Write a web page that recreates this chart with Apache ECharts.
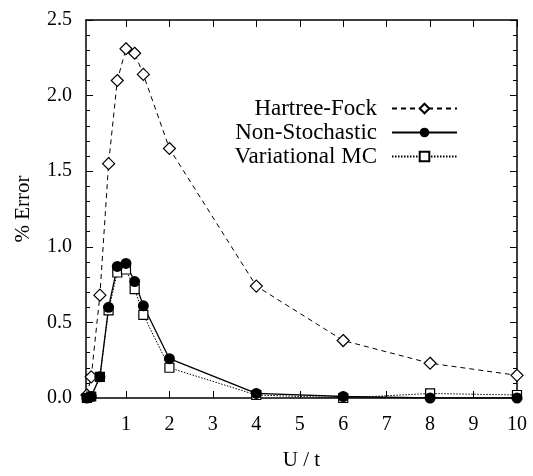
<!DOCTYPE html>
<html>
<head>
<meta charset="utf-8">
<script src="https://cdn.jsdelivr.net/npm/echarts@6/dist/echarts.min.js"></script>
<style>
  html, body { margin: 0; padding: 0; background: #fff; }
  #chart { width: 533px; height: 476px; }
</style>
</head>
<body>
<div id="chart"></div>
<script>
const U = [0.1, 0.2, 0.4, 0.6, 0.8, 1.0, 1.2, 1.4, 2, 4, 6, 8, 10];
const hartreeFock   = [0.02, 0.14, 0.68, 1.55, 2.10, 2.31, 2.28, 2.14, 1.65, 0.74, 0.38, 0.23, 0.15];
const nonStochastic = [0.00, 0.01, 0.14, 0.60, 0.87, 0.89, 0.77, 0.61, 0.26, 0.03, 0.01, 0.00, 0.00];
const variationalMC = [0.00, 0.01, 0.14, 0.58, 0.83, 0.85, 0.72, 0.55, 0.20, 0.02, 0.00, 0.03, 0.02];
const xTicks = [1, 2, 3, 4, 5, 6, 7, 8, 9, 10];
const seriesNames = ['Hartree-Fock', 'Non-Stochastic', 'Variational MC'];

const FONT = 'Liberation Serif';
const chart = echarts.init(document.getElementById('chart'), null, { renderer: 'canvas' });

function xAx(pos, labels) {
  return {
    type: 'value', min: 0.08, max: 10, position: pos,
    axisLine: { show: true, onZero: false, lineStyle: { color: '#000', width: 1.5 } },
    axisTick: { show: true, inside: true, length: 7, customValues: xTicks, lineStyle: { color: '#000', width: 1 } },
    axisLabel: { show: labels, customValues: xTicks, fontSize: 20, fontFamily: FONT, color: '#000', margin: 17 },
    splitLine: { show: false },
    name: labels ? 'U / t' : '',
    nameLocation: 'middle', nameGap: 52,
    nameTextStyle: { fontSize: 21, fontFamily: FONT, color: '#000' }
  };
}
function yAx(pos, labels) {
  return {
    type: 'value', min: 0, max: 2.5, interval: 0.5, position: pos,
    axisLine: { show: true, onZero: false, lineStyle: { color: '#000', width: 1.5 } },
    axisTick: { show: true, inside: true, length: 7, lineStyle: { color: '#000', width: 1 } },
    minorTick: { show: true, splitNumber: 5, length: 4, lineStyle: { color: '#000', width: 1 } },
    axisLabel: { show: labels, fontSize: 20, fontFamily: FONT, color: '#000', margin: 14,
      formatter: v => v.toFixed(1) },
    splitLine: { show: false },
    minorSplitLine: { show: false },
    name: labels ? '% Error' : '',
    nameLocation: 'middle', nameGap: 52, nameRotate: 90,
    nameTextStyle: { fontSize: 21, fontFamily: FONT, color: '#000' }
  };
}

function legendFor(name, top) {
  return {
    data: [name], right: 75, top: top, align: 'right', orient: 'vertical',
    padding: 0, itemWidth: 65, itemHeight: 12, selectedMode: false,
    textStyle: { fontSize: 23, fontFamily: FONT, color: '#000', padding: [0, 10, 0, 0] }
  };
}

const option = {
  animation: false,
  backgroundColor: '#fff',
  grid: { left: 86, right: 16, top: 20, bottom: 71 },
  xAxis: [xAx('bottom', true), xAx('top', false)],
  yAxis: [yAx('left', true), yAx('right', false)],
  legend: [
    legendFor(seriesNames[0], 97),
    legendFor(seriesNames[1], 121),
    legendFor(seriesNames[2], 145)
  ],
  series: [
    {
      name: seriesNames[0], type: 'line',
      data: U.map((u, i) => [u, hartreeFock[i]]),
      symbol: 'diamond', symbolSize: 12, showAllSymbol: true,
      lineStyle: { color: '#000', width: 1, type: [5, 4] },
      itemStyle: { color: '#fff', borderColor: '#000', borderWidth: 1.2 },
      emphasis: { disabled: true }
    },
    {
      name: seriesNames[2], type: 'line',
      data: U.map((u, i) => [u, variationalMC[i]]),
      symbol: 'rect', symbolSize: 9, showAllSymbol: true,
      lineStyle: { color: '#000', width: 1, type: [1.5, 1.5] },
      itemStyle: { color: '#fff', borderColor: '#000', borderWidth: 1.2 },
      emphasis: { disabled: true }
    },
    {
      name: seriesNames[1], type: 'line',
      data: U.map((u, i) => [u, nonStochastic[i]]),
      symbol: 'circle', symbolSize: 11, showAllSymbol: true,
      lineStyle: { color: '#000', width: 1.3, type: 'solid' },
      itemStyle: { color: '#000', borderColor: '#000', borderWidth: 0 },
      emphasis: { disabled: true }
    }
  ]
};
chart.setOption(option);
</script>
</body>
</html>
